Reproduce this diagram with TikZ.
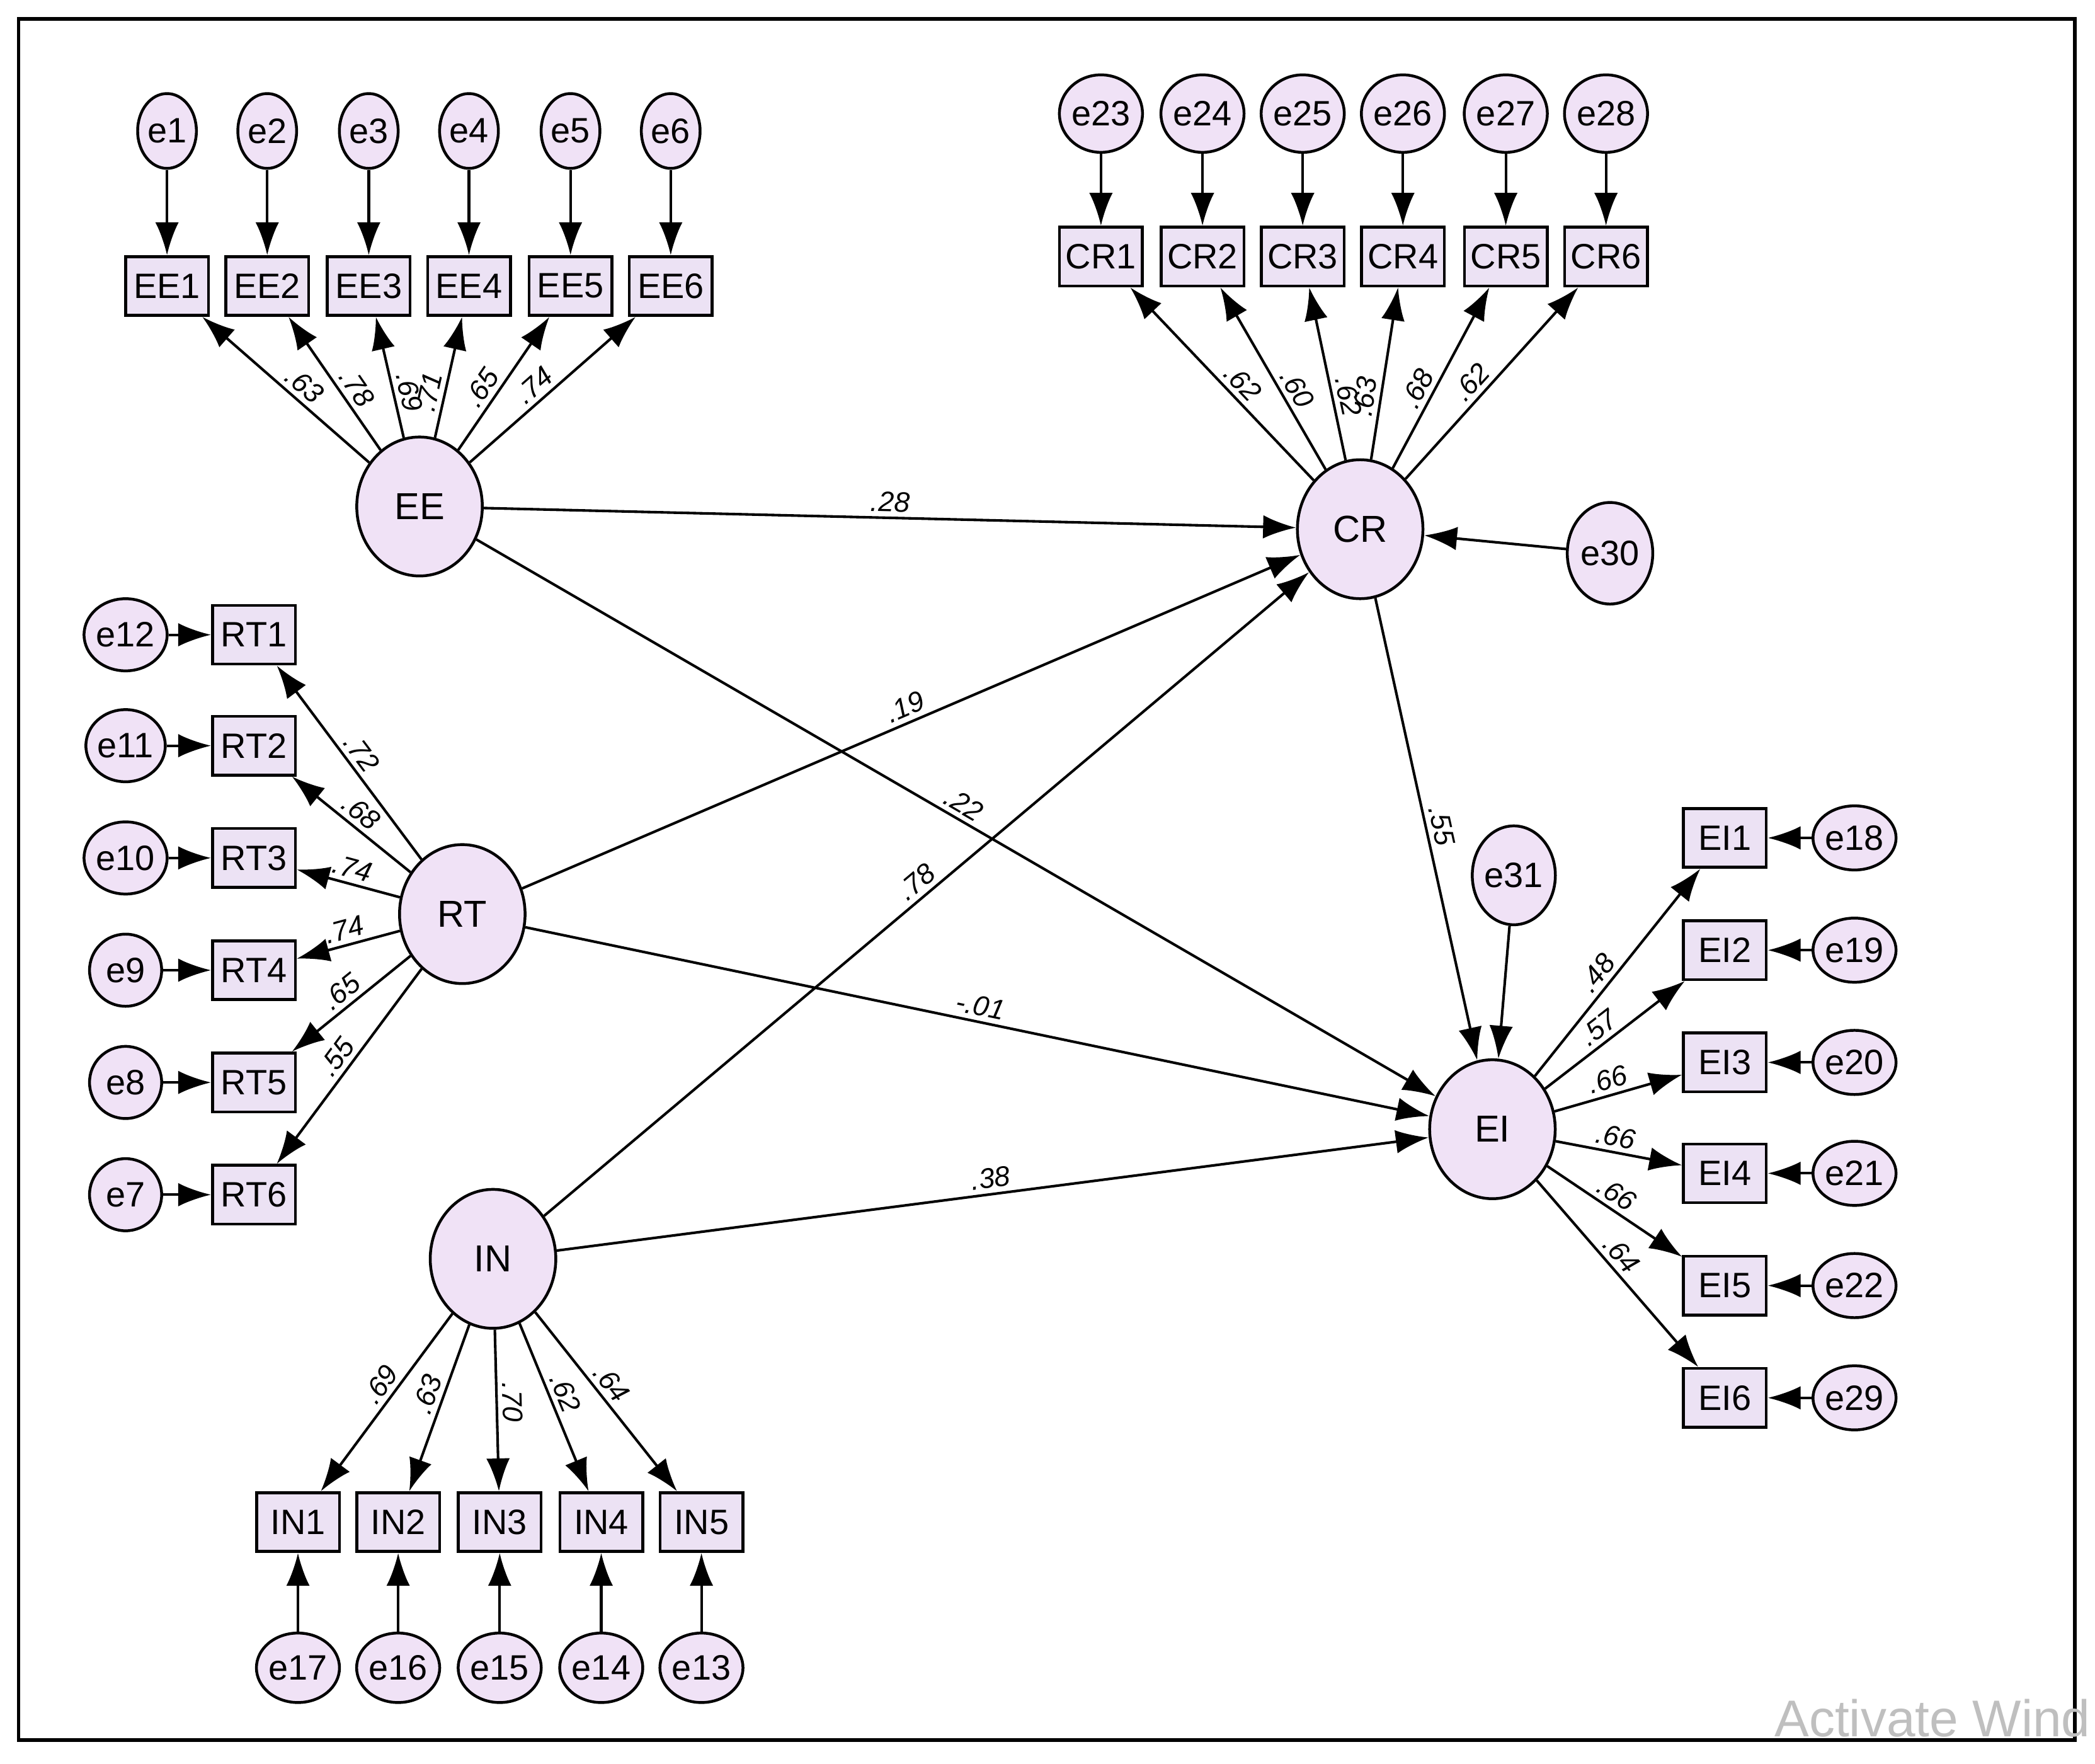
\documentclass[tikz,border=0pt]{standalone}
\usepackage{fontspec}
\setmainfont{Liberation Sans}
\usetikzlibrary{arrows.meta,shapes.geometric}
\begin{document}
\begin{tikzpicture}[x=0.02cm,y=-0.02cm,
 obs/.style={draw,line width=1.2pt,fill=boxfill,minimum width=1.24cm,minimum height=0.88cm,inner sep=0pt,font=\fontsize{15}{15}\selectfont},
 lat/.style={draw,ellipse,line width=1.2pt,fill=latfill,minimum width=1.88cm,minimum height=2.08cm,inner sep=0pt,font=\fontsize{16}{16}\selectfont},
 err/.style={draw,ellipse,line width=1.2pt,fill=latfill,inner sep=0pt,font=\fontsize{15}{15}\selectfont},
 arr/.style={-{Latex[length=14pt,width=10pt]},line width=1.1pt},
 lab/.style={font=\fontsize{12}{12}\selectfont\itshape,inner sep=2pt,sloped}]
\definecolor{boxfill}{RGB}{236,226,244}
\definecolor{latfill}{RGB}{240,226,246}
\useasboundingbox (0,0) rectangle (1568,1320);
\fill[white] (0,0) rectangle (1568,1320);
\draw[line width=1.5pt] (14,14) rectangle (1553,1302);
\node[text=gray!50,font=\fontsize{22}{22}\selectfont,anchor=south west] at (1322,1306) {Activate Wind};
% latents
\node[lat] (EE) at (314,379) {EE};
\node[lat] (CR) at (1018,396) {CR};
\node[lat] (RT) at (346,684) {RT};
\node[lat] (IN) at (369,942) {IN};
\node[lat] (EI) at (1117,845) {EI};
% EE
\foreach \i/\x/\l/\p in {1/125/.63/0.45,2/200/.78/0.4,3/276/.69/0.35,4/351/.71/0.35,5/427/.65/0.4,6/502/.74/0.45}{
 \node[obs] (EE\i) at (\x,214) {EE\i};
 \node[err,minimum width=0.88cm,minimum height=1.12cm] (e\i) at (\x,98) {e\i};
 \draw[arr] (e\i) -- (EE\i);
 \draw[arr] (EE) -- node[lab,pos=\p,above]{\l} (EE\i);
}
% CR
\foreach \i/\x/\e/\l/\p in {1/824/23/.62/0.45,2/900/24/.60/0.4,3/975/25/.62/0.35,4/1050/26/.63/0.35,5/1127/27/.68/0.4,6/1202/28/.62/0.45}{
 \node[obs] (CR\i) at (\x,192) {CR\i};
 \node[err,minimum width=1.16cm,minimum height=1.16cm] (e\e) at (\x,85) {e\e};
 \draw[arr] (e\e) -- (CR\i);
 \draw[arr] (CR) -- node[lab,pos=\p,above]{\l} (CR\i);
}
% RT
\foreach \i/\y/\e/\l/\s in {1/475/12/.72/above,2/558/11/.68/above,3/642/10/.74/above,4/726/9/.74/above,5/810/8/.65/above,6/894/7/.55/above}{
 \node[obs] (RT\i) at (190,\y) {RT\i};
 \node[err,minimum width=1.08cm,minimum height=1.08cm] (e\e) at (94,\y) {e\e};
 \draw[arr] (e\e) -- (RT\i);
 \draw[arr] (RT) -- node[lab,pos=0.5,\s]{\l} (RT\i);
}
% IN
\foreach \i/\x/\e/\l in {1/223/17/.69,2/298/16/.63,3/374/15/.70,4/450/14/.62,5/525/13/.64}{
 \node[obs] (IN\i) at (\x,1139) {IN\i};
 \node[err,minimum width=1.08cm,minimum height=1.04cm] (e\e) at (\x,1248) {e\e};
 \draw[arr] (e\e) -- (IN\i);
 \draw[arr] (IN) -- node[lab,pos=0.45,above]{\l} (IN\i);
}
% EI
\foreach \i/\y/\e/\l in {1/627/18/.48,2/711/19/.57,3/795/20/.66,4/878/21/.66,5/962/22/.66,6/1046/29/.64}{
 \node[obs] (EI\i) at (1291,\y) {EI\i};
 \node[err,minimum width=1.04cm,minimum height=0.96cm] (e\e) at (1388,\y) {e\e};
 \draw[arr] (e\e) -- (EI\i);
 \draw[arr] (EI) -- node[lab,pos=0.45,above]{\l} (EI\i);
}
\node[err,minimum width=1.28cm,minimum height=1.52cm] (e30) at (1205,414) {e30};
\node[err,minimum width=1.08cm,minimum height=1.48cm] (e31) at (1133,655) {e31};
\draw[arr] (e30) -- (CR);
\draw[arr] (e31) -- (EI);
% structural
\draw[arr] (EE) -- node[lab,pos=0.5,above]{.28} (CR);
\draw[arr] (RT) -- node[lab,pos=0.5,above]{.19} (CR);
\draw[arr] (EE) -- node[lab,pos=0.5,above]{.22} (EI);
\draw[arr] (IN) -- node[lab,pos=0.5,above]{.78} (CR);
\draw[arr] (RT) -- node[lab,pos=0.5,above]{-.01} (EI);
\draw[arr] (IN) -- node[lab,pos=0.5,above]{.38} (EI);
\draw[arr] (CR) -- node[lab,pos=0.5,above]{.55} (EI);
\end{tikzpicture}
\end{document}
